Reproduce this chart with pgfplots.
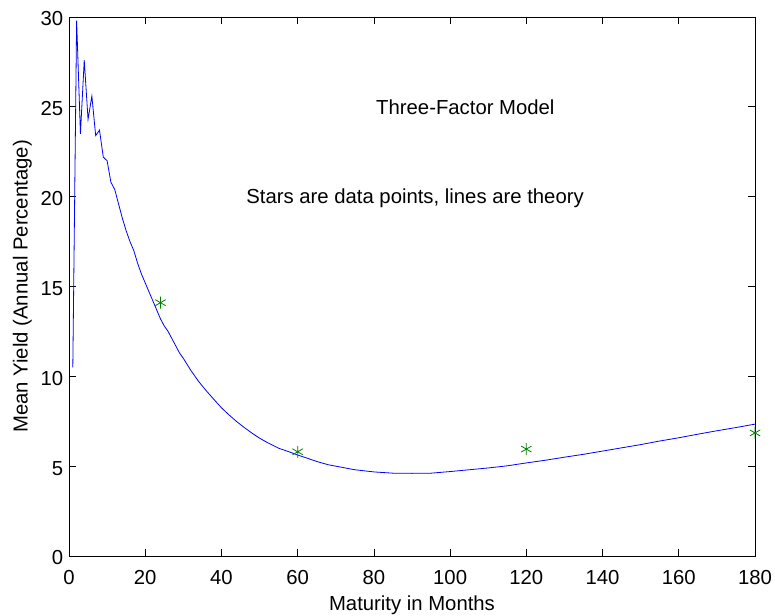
\documentclass[border=0pt]{standalone}
\usepackage{fontspec}
\setmainfont{Liberation Sans}
\usepackage{pgfplots}
\pgfplotsset{compat=1.18}
\definecolor{mblue}{rgb}{0,0,1}
\definecolor{mgreen}{rgb}{0,0.5,0}
\begin{document}
\begin{tikzpicture}[font=\fontsize{20.3}{24}\selectfont]
\begin{axis}[
  scale only axis,
  width=686pt, height=539pt,
  xmin=0, xmax=180, ymin=0, ymax=30,
  xtick={0,20,...,180}, ytick={0,5,...,30},
  tick align=inside,
  major tick length=7pt,
  axis line style={line width=0.9pt},
  every tick/.style={black, line width=0.7pt},
  /pgf/number format/assume math mode=true,
  xticklabel style={anchor=base, yshift=-28pt},
  yticklabel style={anchor=east, xshift=-2.2pt, yshift=-2pt},
  xlabel={Maturity in Months},
  ylabel={Mean Yield (Annual Percentage)},
  every axis x label/.style={at={(rel axis cs:0.5,0)}, yshift=-54pt, anchor=base},
  every axis y label/.style={at={(rel axis cs:0,0.5)}, xshift=-41.3pt, rotate=90, anchor=base},
  clip=false,
]
\addplot[mblue, line width=0.8pt] coordinates {
(1,10.5) (2,29.8) (3,23.5) (4,27.6) (5,24.3) (6,25.6) (7,23.4) (8,23.7) (9,22.2) (10,22.0)
(11,20.8) (12,20.4) (13,19.6) (14,18.8) (15,18.1) (16,17.5) (17,17.0) (18,16.3) (19,15.7) (20,15.2)
(21,14.7) (22,14.2) (23,13.7) (24,13.2) (25,12.8) (26,12.5) (27,12.1) (28,11.7) (29,11.3) (30,11.0)
(32,10.32) (34,9.72) (36,9.2) (38,8.72) (40,8.25) (42,7.85) (44,7.48) (46,7.15) (48,6.84) (50,6.56)
(52,6.32) (55,6.0) (58,5.78) (60,5.62) (62,5.48) (65,5.26) (68,5.08) (70,5.0) (75,4.8) (80,4.68)
(85,4.61) (90,4.6) (95,4.61) (100,4.7) (105,4.8) (110,4.9) (115,5.02) (120,5.18) (125,5.33) (130,5.5)
(135,5.66) (140,5.84) (145,6.02) (150,6.2) (155,6.4) (160,6.58) (165,6.78) (170,6.97) (175,7.15) (180,7.34)
};
\addplot[only marks, mark=asterisk, mark size=6pt, mgreen, mark options={line width=0.8pt}] coordinates {
(24,14.1) (60,5.8) (120,5.95) (180,6.85)
};
\node at (axis cs:104,24.95) {Three-Factor Model};
\node at (axis cs:90.8,19.9) {Stars are data points, lines are theory};
\coordinate (sw) at (rel axis cs:0,0);
\coordinate (ne) at (rel axis cs:1,1);
\end{axis}
\pgfresetboundingbox
\path ([shift={(-69pt,-59pt)}]sw) rectangle ([shift={(20pt,17pt)}]ne);
\end{tikzpicture}
\end{document}
